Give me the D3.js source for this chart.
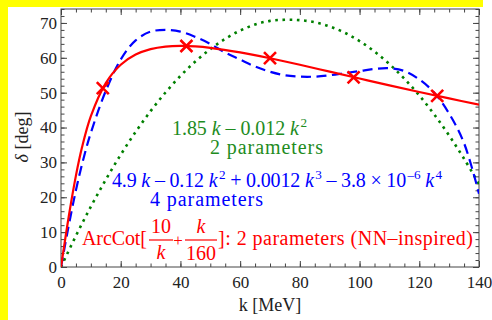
<!DOCTYPE html>
<html>
<head>
<meta charset="utf-8">
<title>Phase shift fits</title>
<script src="https://cdn.jsdelivr.net/npm/d3@7"></script>
<style>
  body { margin: 0; background: #fff; }
  text { font-family: "Liberation Serif", "Times New Roman", serif; }
  .tick text { font-size: 17px; fill: #222; }
  .tick line { stroke: #444; }
</style>
</head>
<body>
<svg id="chart" width="492" height="320"></svg>
<script>
// x positions (k in MeV) and read-off phase shifts (deg)
var redK   = [0, 0.5, 1, 2, 3, 5, 7, 10, 15, 20, 25, 30, 35, 40, 45, 50, 60, 70, 80, 90, 100, 110, 120, 130, 140];
var redVal = [0, 2.86, 5.71, 11.28, 16.61, 26.21, 34.18, 43.26, 52.75, 58.0, 60.92, 62.49, 63.23, 63.43, 63.28, 62.87, 61.56, 59.87, 58.0, 56.03, 54.06, 52.10, 50.19, 48.35, 46.58];

var greenK   = [0, 5, 10, 15, 20, 25, 30, 35, 40, 45, 50, 55, 60, 65, 70, 75, 80, 85, 90, 95, 100, 105, 110, 115, 120, 125, 130, 135, 140];
var greenVal = [0, 8.95, 17.3, 25.05, 32.2, 38.75, 44.7, 50.05, 54.8, 58.95, 62.5, 65.45, 67.8, 69.55, 70.6, 70.9, 70.8, 70.2, 69.0, 67.2, 64.8, 61.8, 58.2, 54.0, 49.2, 43.75, 37.7, 31.05, 23.8];

var blueK   = [0, 2.5, 5, 7.5, 10, 15, 20, 25, 30, 35, 40, 45, 50, 55, 60, 65, 70, 75, 80, 85, 90, 95, 100, 105, 110, 115, 120, 125, 130, 135, 140];
var blueVal = [0, 11.5, 22, 31, 38.5, 50.5, 59.5, 65, 67.5, 68, 67.5, 66, 64, 61.5, 59.5, 57.5, 56, 55, 54.6, 54.6, 55, 55.6, 56.2, 56.8, 57, 56.2, 53.8, 50, 44, 35.5, 21];

var markerK   = [14, 42, 70, 98, 126];
var markerVal = [51.3, 63.4, 59.9, 54.4, 49.1];

var xTicks = [0, 20, 40, 60, 80, 100, 120, 140];
var yTicks = [0, 10, 20, 30, 40, 50, 60, 70];

var svg = d3.select("#chart");
var W = 492, H = 320;
var margin = {left: 61, top: 9, right: 13, bottom: 53};
var w = W - margin.left - margin.right;
var h = H - margin.top - margin.bottom;

// yellow frame strips
svg.append("rect").attr("x", 0).attr("y", 0).attr("width", 483).attr("height", 7).attr("fill", "#ffff00");
svg.append("rect").attr("x", 0).attr("y", 0).attr("width", 8).attr("height", H).attr("fill", "#ffff00");

var x = d3.scaleLinear().domain([0, 140]).range([0, w]);
var y = d3.scaleLinear().domain([0, 74]).range([h, 0]);

var g = svg.append("g").attr("transform", "translate(" + margin.left + "," + margin.top + ")");

g.append("clipPath").attr("id", "clip")
  .append("rect").attr("width", w).attr("height", h);

var minorX = d3.range(0, 141, 5);
var minorY = d3.range(0, 75, 2);

// bottom axis with labels
g.append("g").attr("transform", "translate(0," + h + ")")
  .call(d3.axisBottom(x).tickValues(xTicks).tickSize(-6).tickPadding(9));
g.append("g").attr("transform", "translate(0," + h + ")")
  .call(d3.axisBottom(x).tickValues(minorX).tickSize(-3.5).tickFormat(""));
// top
g.append("g").call(d3.axisTop(x).tickValues(xTicks).tickSize(-6).tickFormat(""));
g.append("g").call(d3.axisTop(x).tickValues(minorX).tickSize(-3.5).tickFormat(""));
// left axis with labels
g.append("g")
  .call(d3.axisLeft(y).tickValues(yTicks).tickSize(-6).tickPadding(4));
g.append("g").call(d3.axisLeft(y).tickValues(minorY).tickSize(-3.5).tickFormat(""));
// right
g.append("g").attr("transform", "translate(" + w + ",0)")
  .call(d3.axisRight(y).tickValues(yTicks).tickSize(-6).tickFormat(""));
g.append("g").attr("transform", "translate(" + w + ",0)")
  .call(d3.axisRight(y).tickValues(minorY).tickSize(-3.5).tickFormat(""));

g.selectAll(".domain").remove();
g.append("rect").attr("width", w).attr("height", h)
  .attr("fill", "none").attr("stroke", "#444").attr("stroke-width", 1);

// curves
var line = d3.line()
  .x(function(d) { return x(d[0]); })
  .y(function(d) { return y(d[1]); })
  .curve(d3.curveCatmullRom);

var plot = g.append("g").attr("clip-path", "url(#clip)");

plot.append("path").datum(d3.zip(greenK, greenVal))
  .attr("d", line).attr("fill", "none")
  .attr("stroke", "#008000").attr("stroke-width", 2.6)
  .attr("stroke-dasharray", "2.6,4.6");

plot.append("path").datum(d3.zip(blueK, blueVal))
  .attr("d", line).attr("fill", "none")
  .attr("stroke", "#0000ff").attr("stroke-width", 2.2)
  .attr("stroke-dasharray", "10,5.5");

plot.append("path").datum(d3.zip(redK, redVal))
  .attr("d", line).attr("fill", "none")
  .attr("stroke", "#ff0000").attr("stroke-width", 2.2);

// X markers
var s = 6;
g.selectAll(".mk").data(d3.zip(markerK, markerVal)).enter()
  .append("path").attr("class", "mk")
  .attr("d", function(d) {
    var cx = x(d[0]), cy = y(d[1]);
    return "M" + (cx - s) + "," + (cy - s) + "L" + (cx + s) + "," + (cy + s) +
           "M" + (cx - s) + "," + (cy + s) + "L" + (cx + s) + "," + (cy - s);
  })
  .attr("stroke", "#ff0000").attr("stroke-width", 2.6).attr("fill", "none");

// axis titles
svg.append("text").attr("transform", "translate(28,137) rotate(-90)")
  .attr("text-anchor", "middle").attr("font-size", 18).attr("fill", "#222")
  .html('<tspan font-style="italic">δ</tspan> [deg]');
svg.append("text").attr("x", 270).attr("y", 311)
  .attr("text-anchor", "middle").attr("font-size", 18).attr("fill", "#222")
  .text("k [MeV]");

// rich text helper: segments [text, style] ; style: "" normal, "i" italic, "s" superscript
function rich(xp, yp, size, color, segs, len) {
  var t = svg.append("text").attr("x", xp).attr("y", yp)
    .attr("font-size", size).attr("fill", color);
  var up = false;
  segs.forEach(function(sg) {
    var ts = t.append("tspan").text(sg[0]);
    if (sg[1].indexOf("i") >= 0) ts.attr("font-style", "italic");
    if (sg[1].indexOf("s") >= 0) {
      ts.attr("font-size", size * 0.66).attr("dy", -size * 0.42).attr("dx", 1.5);
      up = true;
    } else if (up) {
      ts.attr("dy", size * 0.42);
      up = false;
    }
  });
  if (len) t.attr("textLength", len).attr("lengthAdjust", "spacing");
  return t;
}

var fs = 20;
var green = "#1e8c1e";
rich(172, 135, fs, green, [["1.85 ", ""], ["k", "i"], [" – 0.012 ", ""], ["k", "i"], ["2", "s"]], 135);
rich(210, 154, fs, green, [["2 parameters", ""]], 113);

var blue = "#0000ff";
rich(112, 187, fs, blue, [["4.9 ", ""], ["k", "i"], [" – 0.12 ", ""], ["k", "i"], ["2", "s"],
  [" + 0.0012 ", ""], ["k", "i"], ["3", "s"], [" – 3.8 × 10", ""], ["–6", "s"], [" ", ""], ["k", "i"], ["4", "s"]], 330);
rich(150, 206, fs, blue, [["4 parameters", ""]], 113);

var red = "#ff0000";
rich(82, 245, fs, red, [["ArcCot[", ""]], 65);
// fraction 10 / k
svg.append("text").attr("x", 161).attr("y", 233).attr("text-anchor", "middle")
  .attr("font-size", fs).attr("fill", red).text("10");
svg.append("line").attr("x1", 149).attr("x2", 173).attr("y1", 240).attr("y2", 240)
  .attr("stroke", red).attr("stroke-width", 1.2);
svg.append("text").attr("x", 161).attr("y", 259).attr("text-anchor", "middle")
  .attr("font-size", fs).attr("font-style", "italic").attr("fill", red).text("k");
svg.append("text").attr("x", 178).attr("y", 246).attr("text-anchor", "middle")
  .attr("font-size", 17).attr("fill", red).text("+");
// fraction k / 160
svg.append("text").attr("x", 201).attr("y", 233).attr("text-anchor", "middle")
  .attr("font-size", fs).attr("font-style", "italic").attr("fill", red).text("k");
svg.append("line").attr("x1", 185).attr("x2", 217).attr("y1", 240).attr("y2", 240)
  .attr("stroke", red).attr("stroke-width", 1.2);
svg.append("text").attr("x", 201).attr("y", 260).attr("text-anchor", "middle")
  .attr("font-size", fs).attr("fill", red).text("160");
rich(218, 245, fs, red, [["]: 2 parameters (NN–inspired)", ""]], 255);
</script>
</body>
</html>
